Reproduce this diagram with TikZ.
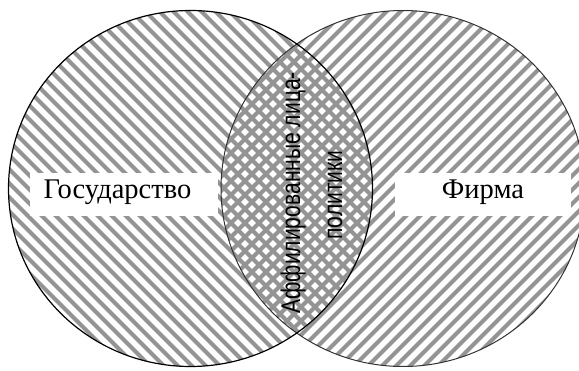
\documentclass[tikz,border=0pt]{standalone}
\usepackage{fontspec}
\setmainfont{Liberation Serif}
\newfontfamily\narrowsans[FakeStretch=0.78]{Liberation Sans}
\begin{document}
\begin{tikzpicture}[x=1pt,y=1pt,
  hatch/.style={line width=4pt, black!42},
  ring/.style={line width=1.2pt, black},
  whitebox/.style={fill=white, draw=none, inner sep=0pt, minimum height=43pt},
  serlabel/.style={inner sep=0pt, font=\fontsize{28.5}{33}\selectfont},
  sanslabel/.style={inner sep=0pt, rotate=90, anchor=base, font=\narrowsans\fontsize{27}{32}\selectfont}]
\useasboundingbox (0,0) rectangle (579,370);
\coordinate (L) at (190.5,181.5);
\coordinate (R) at (403,181.5);
\begin{scope}
  \clip (L) ellipse [x radius=182, y radius=178];
  \foreach \c in {0,14,...,990} \draw[hatch] (\c-400,400) -- (\c+400,-400);
\end{scope}
\begin{scope}
  \clip (R) ellipse [x radius=182, y radius=178];
  \foreach \c in {-420,-406,...,620} \draw[hatch] (\c-400,-400) -- (\c+400,400);
\end{scope}
\node[whitebox, minimum width=188pt] (gbox) at (124,175.5) {};
\node[whitebox, minimum width=176pt] (fbox) at (483,175.5) {};
\draw[line width=1pt, black!80] (R) ellipse [x radius=182, y radius=178];
\draw[ring] (L) ellipse [x radius=182, y radius=178];
\node[serlabel, anchor=base] (gos) at (117.5,171) {Государство};
\node[serlabel, anchor=base] (firm) at (483,171) {Фирма};
\node[sanslabel] (aff1) at (300,177) {Аффилированные лица-};
\node[sanslabel] (aff2) at (342,175) {политики};
\end{tikzpicture}
\end{document}
